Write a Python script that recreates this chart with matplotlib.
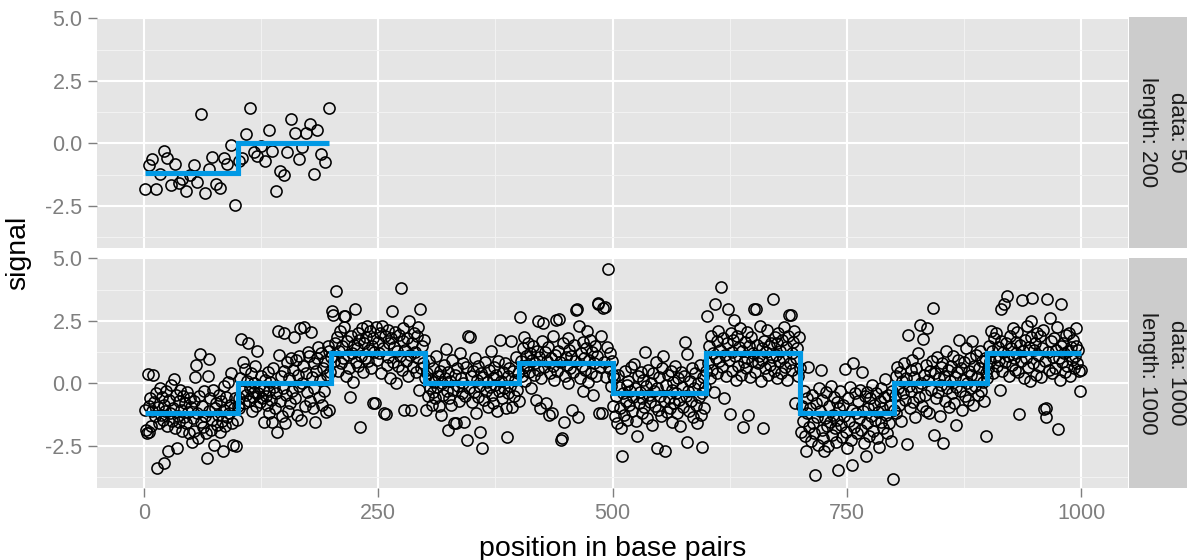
import matplotlib
matplotlib.use("Agg")
import matplotlib.pyplot as plt
from matplotlib.ticker import FixedLocator

plt.rcParams['font.family'] = ['Liberation Sans', 'DejaVu Sans']

# top facet: 50 probes over 200 bp
top_pos = list(range(1, 198, 4))
top_signal = [
    -1.84, -0.86, -0.63, -1.84, -1.22, -0.30, -0.58, -1.68, -0.82, -1.59,
    -1.42, -1.90, -1.28, -0.86, -1.56, 1.19, -1.97, -1.02, -0.56, -1.61,
    -1.77, -0.60, -0.82, -0.05, -2.47, -0.69, -0.60, 0.37, 1.43, -0.33,
    -0.49, -0.12, -0.69, 0.53, -0.32, -1.90, -1.11, -1.28, -0.33, 0.99,
    0.40, -0.63, -0.16, 0.42, 0.77, -1.22, 0.53, -0.42, -0.73, 1.43,
]
top_breaks = [1, 100, 197]
top_levels = [-1.2, 0.0]

# bottom facet: 1000 probes over 1000 bp, one list per 100 bp segment
seg_0 = [
    -1.05, -1.85, -2.0, 0.38, -0.9, -1.95, -0.6, -1.7, -1.1, 0.32,
    -0.75, -1.3, -0.4, -3.38, -0.95, -1.6, -0.2, -1.25, -0.55, -1.45,
    -0.85, -3.2, -1.1, -0.3, -1.7, -2.7, -0.65, -1.2, -0.05, -1.5,
    -1.0, 0.16, -1.8, -0.45, -2.6, -1.3, -0.7, -1.55, -0.25, -1.05,
    -1.9, -0.5, -1.35, -0.8, -1.6, -0.35, -1.15, -2.0, -0.6, -0.95,
    -2.33, -1.4, -0.7, -1.9, 0.25, 0.75, -1.2, -2.2, -0.5, 1.18,
    -1.55, -0.9, -1.75, -0.3, -1.3, -2.0, -3.0, 0.28, 0.98, -1.1,
    -0.6, -1.85, -1.45, -0.25, -2.46, -1.0, -0.8, -1.65, -1.25, -0.45,
    -1.95, -0.7, -1.5, -2.72, -0.1, -1.05, -1.7, -0.55, -1.35, 0.05,
    -1.2, -0.85, 0.4, -1.6, -2.46, -1.0, -0.6, -2.5, -1.45, -0.9,
]
seg_1 = [
    -0.6, -1.0, 0.2, 1.77, -0.3, 0.85, -0.8, 0.58, -0.45, 0.1,
    1.6, -0.7, -0.2, 0.4, -1.1, -0.55, 0.0, -0.35, 0.7, -0.9,
    1.3, -0.4, -0.1, -0.75, 0.3, -0.6, -0.25, -1.53, 0.15, -0.5,
    -0.85, 0.45, -0.3, -1.2, 0.05, -0.65, -1.53, 0.6, -0.15, -1.0,
    -0.4, -1.93, 2.08, 1.15, -0.7, 0.3, -1.3, -0.2, 2.0, 0.5,
    -1.6, -0.45, 0.85, -1.1, 0.2, -0.8, 1.0, -0.3, 0.55, 1.84,
    -0.6, 0.95, -1.25, 0.35, -0.1, 1.1, 2.2, -1.47, 0.0, 0.7,
    2.26, -0.9, 0.4, -0.35, 1.25, 1.1, -0.7, 2.04, 0.25, -1.0,
    0.8, -0.2, -1.53, 0.5, 1.0, 1.44, -0.55, 0.15, 1.2, -0.85,
    0.6, -0.3, 0.9, -1.14, 0.35, 1.5, 1.3, -1.05, 0.45, 1.05,
]
seg_2 = [
    2.9, 2.74, 0.9, 1.6, 3.69, 1.85, 0.5, 1.3, 2.1, 0.8,
    1.5, 1.0, 2.24, 2.7, 2.7, 0.3, 1.7, 1.15, 0.6, -0.54,
    1.9, 1.2, 0.05, 1.55, 2.99, 0.85, 1.4, 2.0, 0.7, 1.75,
    -1.73, 1.1, 2.2, 0.45, 1.6, 1.0, 1.85, 2.3, 0.9, 1.35,
    2.1, 0.6, 1.5, 1.8, -0.8, 1.25, -0.8, 2.25, 0.95, 1.65,
    1.2, 2.0, 0.4, 2.3, 1.4, -1.2, 1.9, -1.24, 0.75, 2.15,
    1.05, 1.6, 0.2, 1.8, 2.9, 0.85, 1.45, 2.05, 0.0, 1.3,
    0.7, 1.95, 1.1, 3.82, 0.55, 1.7, 2.2, -1.07, 1.35, 0.9,
    1.8, 0.3, 2.5, 1.15, -1.07, 1.6, 0.65, 2.0, 1.25, 0.45,
    1.9, 1.0, 2.25, -0.28, 2.96, 0.6, 1.5, 0.8, 1.75, 0.2,
]
seg_3 = [
    -1.07, 0.4, -0.5, 0.9, -0.2, 0.15, -0.85, 0.6, -0.35, 0.05,
    -0.6, 1.1, -0.15, 0.3, -0.9, 0.5, -1.27, 0.0, -0.45, 0.75,
    0.2, 1.37, -0.3, -1.87, 0.45, -0.6, 0.1, -0.85, 0.95, -0.25,
    -1.6, 0.35, -1.6, 0.6, -0.1, -0.7, 1.2, 0.2, -0.4, 0.8,
    0.0, -1.53, -0.5, 0.65, -2.26, 1.9, -0.2, 1.84, 0.3, -0.75,
    0.5, -0.35, 1.0, -1.2, 0.15, -0.55, 0.7, -0.1, -1.93, 0.4,
    -2.59, 0.25, -0.65, 0.85, -0.3, 0.05, -0.95, 0.55, -0.15, 1.3,
    -0.45, 0.2, -0.8, 0.65, -0.05, 0.35, -1.1, 0.9, -0.3, 1.73,
    0.1, -0.6, 0.45, -0.2, 0.8, -1.0, -2.13, 0.3, -0.4, 0.6,
    -0.1, 1.7, -0.94, 0.5, -0.5, 0.15, 1.05, -0.25, 0.4, -0.7,
]
seg_4 = [
    2.66, 0.9, 0.3, 1.4, 0.6, 1.85, 0.1, 1.1, 0.75, 1.6,
    0.45, 1.2, -0.2, 0.95, 1.5, 0.35, 0.8, -0.67, 1.3, 2.5,
    0.55, 1.05, -1.0, 0.2, 1.7, 2.43, 0.65, 1.25, -0.8, 0.9,
    1.45, -1.26, 0.4, 1.0, -1.2, 0.7, 1.9, 0.15, 1.15, 2.53,
    0.5, 1.3, 2.57, 0.85, -2.26, -2.19, 1.6, -1.53, 0.3, 1.05,
    0.75, 1.8, 0.0, 1.35, 0.6, 1.1, -1.07, 0.45, 1.55, 0.9,
    2.92, 2.97, -1.33, 2.3, 0.2, 1.2, 0.7, 1.65, -0.3, 1.0,
    0.55, 1.4, 2.1, 0.05, 0.95, 1.75, 0.4, 1.25, -0.45, 0.8,
    1.5, 0.3, 1.1, 3.23, 3.17, -1.2, 0.65, 1.9, -1.2, 3.03,
    0.85, 3.04, 0.25, 1.45, 4.56, 0.6, 1.2, -0.1, 0.9, 0.35,
]
seg_5 = [
    -0.9, 0.2, -1.3, -0.5, -1.6, 0.35, -0.15, -1.0, -1.8, -2.92,
    -0.4, -1.25, 0.5, -0.7, -0.05, -1.45, 0.1, -0.85, -0.3, 0.65,
    -1.1, -0.55, 0.78, -0.2, -1.5, -2.1, 0.3, -0.8, -0.35, 0.45,
    -1.2, -0.6, 0.15, -0.95, 1.24, -0.1, -1.4, 0.55, -0.45, -0.75,
    0.0, -1.65, 0.4, -0.3, -0.9, 0.85, -2.59, -0.2, -1.05, 0.25,
    -0.5, -1.3, 0.6, 1.1, -0.7, -2.72, -0.05, -1.15, 0.35, -0.6,
    -1.0, 0.5, -0.25, -1.55, 0.05, -0.8, 0.7, -0.4, -1.2, 0.2,
    -0.65, -1.7, 0.45, -0.15, -0.95, 0.3, 1.64, -0.5, -2.35, 1.18,
    -0.3, -1.1, 0.1, -0.7, 0.6, -1.35, -0.2, 0.4, -0.85, -1.6,
    0.0, -0.55, 0.75, -1.25, -2.53, -0.4, 0.25, -1.0, -0.15, 0.5,
]
seg_6 = [
    2.7, 0.8, 1.5, 0.2, 1.9, 0.55, 1.2, -0.34, 3.16, 1.0,
    1.7, 0.4, 2.1, 0.9, 1.35, 3.85, 0.65, 1.8, -0.6, 1.15,
    0.3, 1.6, 2.96, 0.95, -1.23, 2.0, 1.25, 0.5, 1.75, 2.53,
    1.1, 0.15, 1.9, 0.7, 1.45, 2.2, 0.35, 1.3, -1.76, 0.85,
    1.65, 0.6, 2.05, 1.0, -1.27, 1.5, 0.25, 1.85, 0.9, 1.2,
    2.99, 0.45, 2.96, 1.55, 0.8, 1.1, 2.3, 0.1, 1.4, 0.95,
    -1.77, 1.7, 0.6, 1.25, 2.15, 0.35, 1.5, 0.75, 1.6, 1.05,
    3.36, 0.5, 1.85, 1.15, 0.2, 1.6, 2.0, 0.9, 1.3, 0.4,
    1.75, 1.0, 2.25, 0.65, 1.45, 0.15, 1.9, 2.72, 0.8, 2.74,
    1.2, 0.55, 1.65, 2.1, -0.8, 1.0, 1.4, 0.3, 1.85, 0.6,
]
seg_7 = [
    -1.93, -0.9, -1.5, -0.3, -2.1, -2.72, -1.2, -0.6, 0.65, -1.75,
    -1.0, -2.3, -0.45, -1.6, -2.0, -3.65, -0.8, -1.35, -2.45, -0.2,
    -1.1, 0.52, -1.85, -0.65, -2.2, -2.72, -1.4, -0.35, -1.7, -2.5,
    -0.9, -1.55, -0.1, -2.05, -1.25, -0.55, -1.8, -2.35, -0.75, -1.45,
    -3.45, -1.0, -0.3, -1.65, -2.15, -0.85, -1.3, 0.58, -1.95, -2.6,
    -0.6, -1.5, -0.15, -2.25, -1.05, -3.25, 0.8, -1.75, -0.4, -1.2,
    -2.0, -0.7, -1.4, -0.25, -1.85, 0.45, -1.1, -2.4, -0.5, -2.9,
    -1.6, -0.35, -1.0, -2.1, -0.6, -1.3, -0.05, -1.9, -0.85, -1.45,
    -0.4, -2.2, -1.15, -2.53, -0.7, -1.55, -0.2, -1.0, -1.8, -0.55,
    0.19, -1.25, -2.0, -0.45, -1.6, -0.9, -2.3, -0.3, -3.82, -1.05,
]
seg_8 = [
    -0.5, 0.3, -1.2, 0.65, -0.2, -0.85, 0.45, -1.5, 0.1, -0.4,
    0.8, -0.65, 0.2, -2.42, 1.94, -0.1, -1.0, 0.55, -0.3, 0.95,
    -0.75, 0.25, -1.35, 0.6, -0.15, 1.2, -0.55, 2.34, 0.0, -0.9,
    1.77, 0.35, -0.45, 0.75, -1.1, 2.2, 0.15, -1.2, 0.5, -0.25,
    0.9, 3.03, -2.06, 0.4, -0.6, 1.05, -0.35, 0.2, -1.3, 0.65,
    -0.05, 0.8, -2.4, 0.3, -0.7, 1.3, -0.2, 0.55, -0.95, 0.1,
    0.7, -0.4, 1.1, -0.8, 0.25, -0.15, -1.67, 0.45, 0.95, 1.73,
    -0.3, 0.6, -1.05, 0.15, 0.85, -0.5, 1.4, 0.0, -0.65, 0.5,
    1.0, -0.2, 0.35, 1.7, -0.85, 0.7, -0.1, 1.15, 0.25, -0.45,
    0.6, 1.3, -0.3, 0.9, 0.05, -0.7, 1.0, 0.4, -2.1, 0.2,
]
seg_9 = [
    0.6, 1.5, 0.9, 2.1, 1.3, 0.4, 1.8, 1.05, 2.0, 0.7,
    1.45, 0.95, -0.28, 1.7, 2.96, 0.5, 1.25, 3.16, 0.85, 1.6,
    3.49, 1.1, 0.3, 1.9, 1.4, 0.75, 2.2, 1.0, 0.55, 1.65,
    1.2, 2.05, 0.45, -1.23, 1.55, 0.9, 3.32, 1.3, 0.2, 1.75,
    1.0, 2.3, 0.65, 1.45, 0.1, 1.85, 2.5, 3.4, 0.8, 1.35,
    1.6, 0.35, 2.0, 1.15, 0.7, 1.9, 0.25, 1.4, 2.15, -1.04,
    0.9, -1.0, -1.34, 3.36, 1.25, 0.55, 2.6, 1.7, 0.4, 1.05,
    1.8, 0.6, 1.35, 2.25, -1.83, 1.0, 0.15, 1.5, 3.19, 0.85,
    1.6, 1.2, 0.45, 1.95, 0.7, 1.3, 2.0, 0.3, 1.45, 0.95,
    1.75, 0.6, 1.1, 1.5, 2.2, 0.8, 1.35, 0.5, -0.3, 0.55,
]
bottom_signal = (seg_0 + seg_1 + seg_2 + seg_3 + seg_4 +
                 seg_5 + seg_6 + seg_7 + seg_8 + seg_9)
bottom_pos = list(range(1, len(bottom_signal) + 1))
bottom_breaks = [1, 100, 200, 300, 400, 500, 600, 700, 800, 900, 1000]
bottom_levels = [-1.2, 0.0, 1.2, 0.0, 0.8, -0.4, 1.2, -1.2, 0.0, 1.2]

strip_labels = ["data: 50\nlength: 200", "data: 1000\nlength: 1000"]

W, H = 1187, 560
fig = plt.figure(figsize=(W / 100, H / 100), dpi=100)


def px_box(x0, y0, x1, y1):
    # pixel box (top-left origin) -> figure fraction rect
    return [x0 / W, 1 - y1 / H, (x1 - x0) / W, (y1 - y0) / H]


def draw_panel(ax, pos, sig, breaks, levels, show_x):
    ax.set_facecolor('#E5E5E5')
    for s in ax.spines.values():
        s.set_visible(False)
    ax.set_xlim(-50, 1050)
    ax.set_ylim(-4.19, 5.02)
    ax.xaxis.set_major_locator(FixedLocator([0, 250, 500, 750, 1000]))
    ax.xaxis.set_minor_locator(FixedLocator([125, 375, 625, 875]))
    ax.yaxis.set_major_locator(FixedLocator([-2.5, 0, 2.5, 5.0]))
    ax.yaxis.set_minor_locator(FixedLocator([-3.75, -1.25, 1.25, 3.75]))
    ax.set_yticklabels(["-2.5", "0.0", "2.5", "5.0"])
    ax.grid(which='minor', color='#F2F2F2', lw=0.8, zorder=0)
    ax.grid(which='major', color='white', lw=1.5, zorder=0)
    ax.set_axisbelow(True)
    ax.tick_params(which='minor', length=0)
    ax.tick_params(which='major', colors='#7F7F7F', labelsize=15.5,
                   length=6.5, width=1.0, pad=4)
    if show_x:
        ax.set_xticklabels(["0", "250", "500", "750", "1000"])
    else:
        ax.tick_params(axis='x', which='major', length=0, labelbottom=False)

    ax.plot(pos, sig, linestyle='none', marker='o', markersize=8.0,
            markerfacecolor='none', markeredgecolor='black',
            markeredgewidth=1.15, zorder=2)
    ax.step(breaks, levels + [levels[-1]], where='post', color='#0099E5',
            lw=3.7, solid_capstyle='butt', solid_joinstyle='miter', zorder=3)


ax_top = fig.add_axes(px_box(97, 18, 1128, 248))
ax_bot = fig.add_axes(px_box(97, 258, 1128, 488))
draw_panel(ax_top, top_pos, top_signal, top_breaks, top_levels, False)
draw_panel(ax_bot, bottom_pos, bottom_signal, bottom_breaks, bottom_levels, True)

# facet strips on the right, running off the canvas as in the original
for (y0, y1), label in zip([(17, 248), (258, 488)], strip_labels):
    sax = fig.add_axes(px_box(1129, y0, 1215, y1))
    sax.set_facecolor('#CCCCCC')
    sax.set_xticks([])
    sax.set_yticks([])
    for s in sax.spines.values():
        s.set_visible(False)
    fig.text(1162 / W, 1 - (y0 + y1) / 2 / H, label, rotation=-90,
             ha='center', va='center', fontsize=16, color='#1A1A1A',
             linespacing=1.55, multialignment='center')

fig.text(18 / W, 1 - 253 / H, "signal", rotation=90, ha='center',
         va='center', fontsize=20.5, color='black')
fig.text(612.5 / W, 1 - 556 / H, "position in base pairs", ha='center',
         va='baseline', fontsize=20.5, color='black')

fig.savefig("out.png", dpi=100)
